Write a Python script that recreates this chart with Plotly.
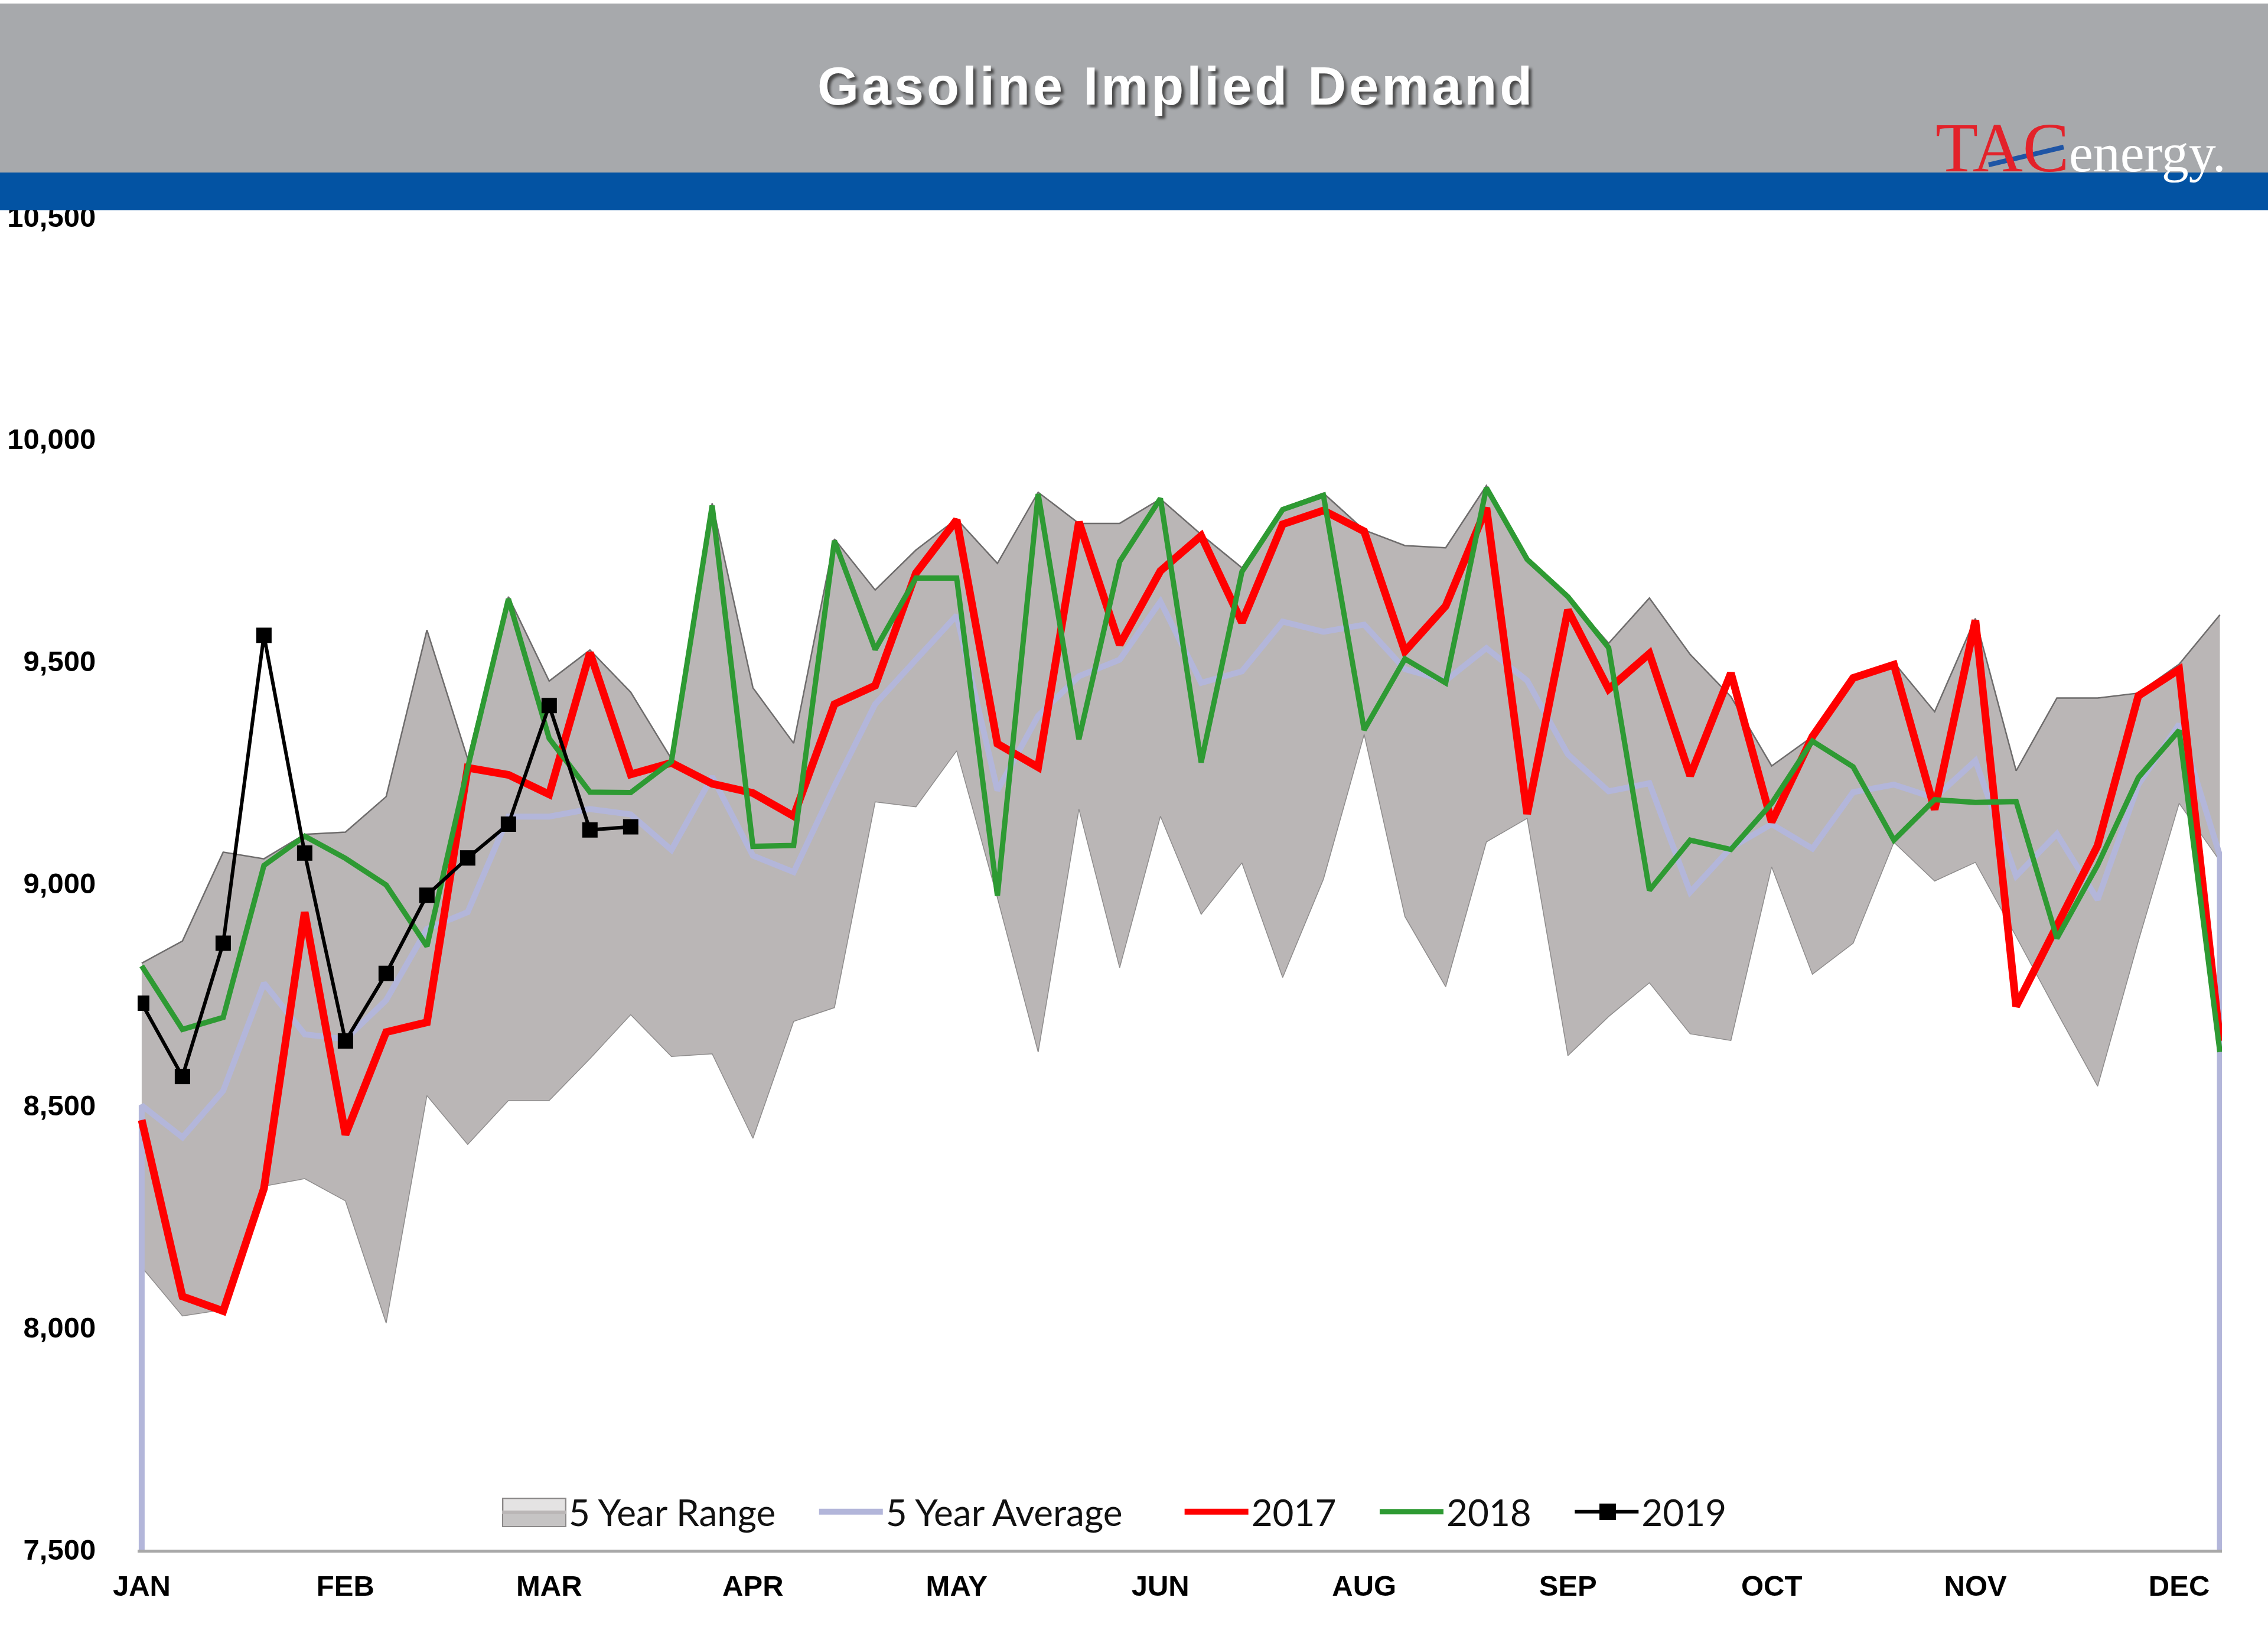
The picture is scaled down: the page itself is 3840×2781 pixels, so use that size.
import plotly.graph_objects as go

# ---------------- data (week index 0..51) ----------------
WEEKS = list(range(52))
TICK_WEEKS = [0, 5, 10, 15, 20, 25, 30, 35, 40, 45, 50]
TICK_TEXT = ["JAN", "FEB", "MAR", "APR", "MAY", "JUN", "AUG", "SEP", "OCT", "NOV", "DEC"]
Y_MIN, Y_MAX = 7500, 10500
Y_TICKS = [7500, 8000, 8500, 9000, 9500, 10000, 10500]

RANGE_HIGH = [8820, 8870, 9070, 9055, 9110, 9115, 9195, 9570, 9280, 9645,
              9455, 9525, 9430, 9280, 9855, 9440, 9315, 9775, 9660, 9750,
              9820, 9720, 9880, 9810, 9810, 9865, 9785, 9710, 9845, 9878,
              9795, 9760, 9755, 9895, 9730, 9645, 9540, 9642, 9515, 9420,
              9264, 9330, 9465, 9497, 9386, 9596, 9253, 9417, 9417, 9428,
              9493, 9604]
RANGE_LOW = [8136, 8026, 8040, 8318, 8335, 8285, 8010, 8522, 8412, 8511,
             8511, 8605, 8704, 8610, 8616, 8426, 8689, 8720, 9183, 9172,
             9298, 8967, 8620, 9167, 8810, 9151, 8930, 9046, 8788, 9009,
             9335, 8925, 8767, 9093, 9146, 8612, 8700, 8776, 8661, 8646,
             9037, 8795, 8865, 9092, 9005, 9047, 8880, 8710, 8543, 8870,
             9180, 9050]
AVG_5Y = [8500, 8428, 8533, 8775, 8660, 8649, 8737, 8897, 8935, 9150,
          9150, 9167, 9155, 9075, 9240, 9062, 9025, 9219, 9403, 9503,
          9603, 9209, 9377, 9466, 9503, 9634, 9451, 9477, 9589, 9566,
          9582, 9482, 9456, 9529, 9456, 9290, 9207, 9225, 8980, 9080,
          9133, 9078, 9205, 9222, 9192, 9276, 9016, 9111, 8963, 9222,
          9358, 9062]
Y2017 = [8467, 8070, 8037, 8313, 8935, 8434, 8665, 8687, 9260, 9244,
         9200, 9519, 9245, 9271, 9224, 9203, 9151, 9403, 9445, 9698,
         9818, 9314, 9261, 9813, 9537, 9703, 9782, 9587, 9808, 9839,
         9792, 9522, 9624, 9845, 9156, 9615, 9437, 9517, 9242, 9473,
         9138, 9330, 9462, 9492, 9166, 9592, 8723, 8903, 9085, 9422,
         9481, 8645]
Y2018 = [8814, 8671, 8698, 9040, 9106, 9056, 8996, 8858, 9260, 9640,
         9326, 9205, 9204, 9274, 9850, 9083, 9085, 9771, 9526, 9687,
         9687, 8972, 9876, 9324, 9724, 9866, 9272, 9701, 9841, 9873,
         9345, 9505, 9451, 9890, 9729, 9645, 9530, 8984, 9097, 9076,
         9180, 9320, 9262, 9097, 9188, 9182, 9184, 8876, 9041, 9238,
         9344, 8620]
Y2019 = [8730, 8565, 8865, 9558, 9068, 8645, 8797, 8973, 9057, 9133,
         9400, 9120, 9127]

SERIES_NAMES = ["5 Year Range", "5 Year Average", "2017", "2018", "2019"]

# ---------------- canvas geometry ----------------
W, H = 3840, 2781
ML, MR, MT, MB = 233, 78, 367, 158
PW, PH = W - ML - MR, H - MT - MB
RANGE_FILL = "#BAB6B6"
NB = "\u00a0"


def px(x):
    return (x - ML) / PW


def py(y):
    return (H - MB - y) / PH


fig = go.Figure()

# 5-year range: lower bound, then filled upper bound
fig.add_trace(go.Scatter(
    x=WEEKS, y=RANGE_LOW, mode="lines",
    line=dict(color="#8E8C8C", width=1.5),
    showlegend=False, hoverinfo="skip"))
fig.add_trace(go.Scatter(
    x=WEEKS, y=RANGE_HIGH, mode="lines", name=SERIES_NAMES[0] + NB * 4,
    fill="tonexty", fillcolor=RANGE_FILL,
    line=dict(color=RANGE_FILL, width=0)))
fig.add_trace(go.Scatter(
    x=WEEKS, y=RANGE_HIGH, mode="lines",
    line=dict(color="#6E6C6C", width=2.5),
    showlegend=False, hoverinfo="skip"))

fig.add_trace(go.Scatter(
    x=[WEEKS[0]] + WEEKS + [WEEKS[-1]],
    y=[Y_MIN] + AVG_5Y + [Y_MIN],
    mode="lines", name=SERIES_NAMES[1] + NB * 6,
    line=dict(color="#B3B6DA", width=10)))

fig.add_trace(go.Scatter(
    x=WEEKS, y=Y2017, mode="lines", name=SERIES_NAMES[2] + NB * 4,
    line=dict(color="#FF0000", width=13)))
fig.add_trace(go.Scatter(
    x=WEEKS, y=Y2018, mode="lines", name=SERIES_NAMES[3] + NB * 4,
    line=dict(color="#2E9A33", width=9)))
fig.add_trace(go.Scatter(
    x=WEEKS[:len(Y2019)], y=Y2019, mode="lines+markers", name=SERIES_NAMES[4],
    line=dict(color="#000000", width=6),
    marker=dict(symbol="square", size=26, color="#000000")))

shapes = [
    # header band
    dict(type="rect", xref="paper", yref="paper",
         x0=px(0), x1=px(W), y0=py(292), y1=py(6),
         fillcolor="#A7A9AC", line=dict(width=0), layer="above"),
    dict(type="rect", xref="paper", yref="paper",
         x0=px(0), x1=px(W), y0=py(356), y1=py(292),
         fillcolor="#0353A3", line=dict(width=0), layer="above"),
    # logo swoosh
    dict(type="line", xref="paper", yref="paper",
         x0=px(3367), y0=py(279), x1=px(3494), y1=py(249),
         line=dict(color="#1F55A5", width=8), layer="above"),
    # legend box for the range entry
    dict(type="rect", xref="paper", yref="paper",
         x0=px(851), x1=px(958), y0=py(2584), y1=py(2536),
         fillcolor="#C6C4C4", line=dict(color="#8A8888", width=2), layer="above"),
    dict(type="rect", xref="paper", yref="paper",
         x0=px(853), x1=px(956), y0=py(2558), y1=py(2538),
         fillcolor="#E4E3E3", line=dict(width=0), layer="above"),
    # larger square for the 2019 legend marker
    dict(type="rect", xref="paper", yref="paper",
         x0=px(2708), x1=px(2736), y0=py(2573), y1=py(2545),
         fillcolor="#000000", line=dict(width=0), layer="above"),
]

annotations = [
    dict(xref="paper", yref="paper", x=px(1991), y=py(146),
         xanchor="center", yanchor="middle", showarrow=False,
         text='<span style="letter-spacing:5px">Gasoline Implied Demand</span>',
         font=dict(family="Liberation Sans", size=90, color="white", weight=700,
                   shadow="5px 5px 4px #4a4a4a")),
    dict(xref="paper", yref="paper", x=px(3390), y=py(250),
         xanchor="center", yanchor="middle", showarrow=False,
         text="TAC",
         font=dict(family="Liberation Serif", size=118, color="#E3222A")),
    dict(xref="paper", yref="paper", x=px(3636), y=py(259),
         xanchor="center", yanchor="middle", showarrow=False,
         text="energy.",
         font=dict(family="Liberation Serif", size=92, color="white")),
]

fig.update_layout(
    width=W, height=H,
    margin=dict(l=ML, r=MR, t=MT, b=MB, pad=0, autoexpand=False),
    paper_bgcolor="white", plot_bgcolor="white",
    shapes=shapes, annotations=annotations,
    showlegend=True,
    legend=dict(orientation="h", x=px(845), y=py(2559),
                xanchor="left", yanchor="middle",
                font=dict(family="Lato", size=62, color="#111111"),
                bgcolor="rgba(0,0,0,0)", itemwidth=108,
                traceorder="normal"),
    xaxis=dict(range=[-0.1, 51.05], tickmode="array", automargin=False,
               tickvals=TICK_WEEKS, ticktext=TICK_TEXT,
               showgrid=False, zeroline=False,
               showline=True, linecolor="#A8A8A8", linewidth=5,
               ticks="outside", ticklen=14, tickcolor="rgba(0,0,0,0)",
               tickfont=dict(family="Liberation Sans", size=49, color="black", weight=700)),
    yaxis=dict(range=[Y_MIN, Y_MAX], tickmode="array", tickvals=Y_TICKS, automargin=False,
               tickformat=",d", showgrid=False, zeroline=False, showline=False,
               ticks="outside", ticklen=60, tickcolor="rgba(0,0,0,0)",
               tickfont=dict(family="Liberation Sans", size=49, color="black", weight=700)),
)

fig.write_html("out.html")
